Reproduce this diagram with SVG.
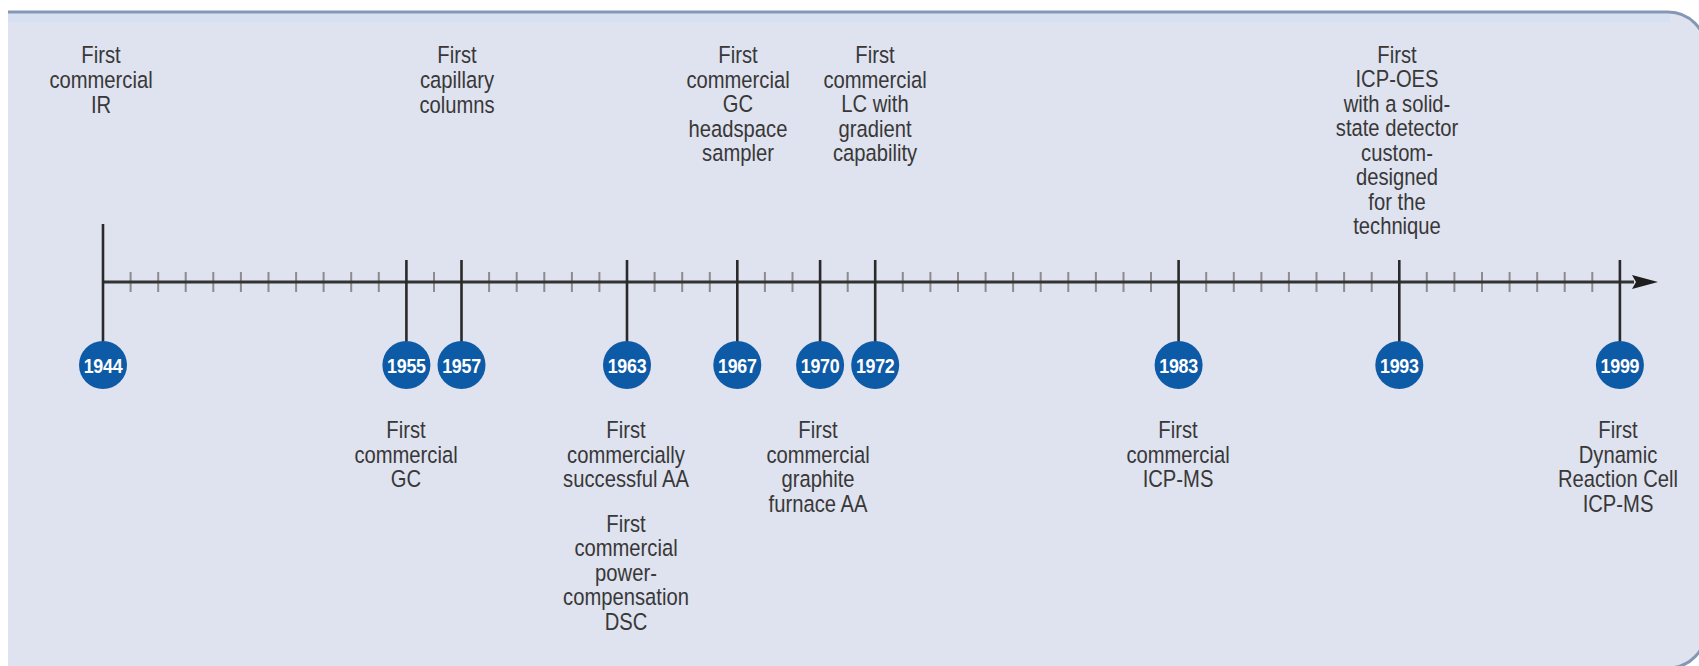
<svg xmlns="http://www.w3.org/2000/svg" width="1699" height="666" viewBox="0 0 1699 666">
<defs>
<style>
.lbl{font-family:"Liberation Sans",Arial,sans-serif;font-size:23.5px;fill:#383838;text-anchor:middle}
.yr{font-family:"Liberation Sans",Arial,sans-serif;font-size:21px;font-weight:bold;fill:#ffffff;text-anchor:middle;letter-spacing:-0.3px}
.dot{fill:#0d5aa7}
.stem{stroke:#2a2a2a;stroke-width:2.6;fill:none}
.tick{stroke:#8c8c8c;stroke-width:2;fill:none}
.axis{stroke:#333333;stroke-width:3;fill:none}
</style>
<marker id="arrow" markerUnits="userSpaceOnUse" markerWidth="28" markerHeight="16" refX="2" refY="7" orient="auto">
<path d="M0,0 L26,7 L0,14 L4,7 Z" fill="#1e1e1e"/>
</marker>
</defs>
<rect x="0" y="0" width="1699" height="666" fill="#ffffff"/>
<path d="M8,666 V12 H1668 A38,38 0 0 1 1706,50 V630 A38,38 0 0 1 1668,668 H8 Z" fill="#dfe2ef"/>
<rect x="8" y="14" width="1662" height="8" fill="#d6e0f1"/>
<path d="M8,12 H1668 A38,38 0 0 1 1706,50 V630 A38,38 0 0 1 1668,668" fill="none" stroke="#8497b4" stroke-width="3"/>

<g id="connectors">
<path class="tick" d="M130.6,272v20M158.2,272v20M185.7,272v20M213.3,272v20M240.9,272v20M268.5,272v20M296.1,272v20M323.6,272v20M351.2,272v20M378.8,272v20M434,272v20M489.1,272v20M516.7,272v20M544.3,272v20M571.9,272v20M599.4,272v20M654.6,272v20M682.2,272v20M709.8,272v20M764.9,272v20M792.5,272v20M847.7,272v20M902.8,272v20M930.4,272v20M958,272v20M985.6,272v20M1013.1,272v20M1040.7,272v20M1068.3,272v20M1095.9,272v20M1123.5,272v20M1151,272v20M1206.2,272v20M1233.8,272v20M1261.4,272v20M1288.9,272v20M1316.5,272v20M1344.1,272v20M1371.7,272v20M1426.8,272v20M1454.4,272v20M1482,272v20M1509.6,272v20M1537.2,272v20M1564.7,272v20M1592.3,272v20"/>
<line class="axis" x1="103" y1="282" x2="1634" y2="282" marker-end="url(#arrow)"/>
<path class="stem" d="M103,224V342M406.4,260V342M461.5,260V342M627,260V342M737.3,260V342M820.1,260V342M875.2,260V342M1178.6,260V342M1399.3,260V342M1619.9,260V342"/>
</g>

<g id="e1944">
<g transform="translate(101,0) scale(0.86,1)">
<text class="lbl" x="0" y="63">First</text>
<text class="lbl" x="0" y="88">commercial</text>
<text class="lbl" x="0" y="113">IR</text>
</g>
<circle class="dot" cx="103" cy="365" r="24"/>
<text class="yr" transform="translate(103,373) scale(0.85,1)">1944</text>
</g>
<g id="e1955">
<circle class="dot" cx="406.4" cy="365" r="24"/>
<text class="yr" transform="translate(406.4,373) scale(0.85,1)">1955</text>
<g transform="translate(406,0) scale(0.86,1)">
<text class="lbl" x="0" y="438.5">First</text>
<text class="lbl" x="0" y="463">commercial</text>
<text class="lbl" x="0" y="487.5">GC</text>
</g>
</g>
<g id="e1957">
<g transform="translate(457,0) scale(0.86,1)">
<text class="lbl" x="0" y="63">First</text>
<text class="lbl" x="0" y="88">capillary</text>
<text class="lbl" x="0" y="113">columns</text>
</g>
<circle class="dot" cx="461.5" cy="365" r="24"/>
<text class="yr" transform="translate(461.5,373) scale(0.85,1)">1957</text>
</g>
<g id="e1963">
<circle class="dot" cx="627" cy="365" r="24"/>
<text class="yr" transform="translate(627,373) scale(0.85,1)">1963</text>
<g transform="translate(626,0) scale(0.86,1)">
<text class="lbl" x="0" y="438.5">First</text>
<text class="lbl" x="0" y="463">commercially</text>
<text class="lbl" x="0" y="487.5">successful AA</text>
<text class="lbl" x="0" y="532">First</text>
<text class="lbl" x="0" y="556.5">commercial</text>
<text class="lbl" x="0" y="581">power-</text>
<text class="lbl" x="0" y="605.5">compensation</text>
<text class="lbl" x="0" y="630">DSC</text>
</g>
</g>
<g id="e1967">
<g transform="translate(738,0) scale(0.86,1)">
<text class="lbl" x="0" y="63">First</text>
<text class="lbl" x="0" y="88">commercial</text>
<text class="lbl" x="0" y="112.5">GC</text>
<text class="lbl" x="0" y="137">headspace</text>
<text class="lbl" x="0" y="161.5">sampler</text>
</g>
<circle class="dot" cx="737.3" cy="365" r="24"/>
<text class="yr" transform="translate(737.3,373) scale(0.85,1)">1967</text>
</g>
<g id="e1970">
<circle class="dot" cx="820.1" cy="365" r="24"/>
<text class="yr" transform="translate(820.1,373) scale(0.85,1)">1970</text>
<g transform="translate(818,0) scale(0.86,1)">
<text class="lbl" x="0" y="438.5">First</text>
<text class="lbl" x="0" y="463">commercial</text>
<text class="lbl" x="0" y="487.5">graphite</text>
<text class="lbl" x="0" y="512">furnace AA</text>
</g>
</g>
<g id="e1972">
<g transform="translate(875,0) scale(0.86,1)">
<text class="lbl" x="0" y="63">First</text>
<text class="lbl" x="0" y="88">commercial</text>
<text class="lbl" x="0" y="112.5">LC with</text>
<text class="lbl" x="0" y="137">gradient</text>
<text class="lbl" x="0" y="161.5">capability</text>
</g>
<circle class="dot" cx="875.2" cy="365" r="24"/>
<text class="yr" transform="translate(875.2,373) scale(0.85,1)">1972</text>
</g>
<g id="e1983">
<circle class="dot" cx="1178.6" cy="365" r="24"/>
<text class="yr" transform="translate(1178.6,373) scale(0.85,1)">1983</text>
<g transform="translate(1178,0) scale(0.86,1)">
<text class="lbl" x="0" y="438.5">First</text>
<text class="lbl" x="0" y="463">commercial</text>
<text class="lbl" x="0" y="487.5">ICP-MS</text>
</g>
</g>
<g id="e1993">
<g transform="translate(1397,0) scale(0.86,1)">
<text class="lbl" x="0" y="63">First</text>
<text class="lbl" x="0" y="87.5">ICP-OES</text>
<text class="lbl" x="0" y="112">with a solid-</text>
<text class="lbl" x="0" y="136.5">state detector</text>
<text class="lbl" x="0" y="161">custom-</text>
<text class="lbl" x="0" y="185.5">designed</text>
<text class="lbl" x="0" y="210">for the</text>
<text class="lbl" x="0" y="234.5">technique</text>
</g>
<circle class="dot" cx="1399.3" cy="365" r="24"/>
<text class="yr" transform="translate(1399.3,373) scale(0.85,1)">1993</text>
</g>
<g id="e1999">
<circle class="dot" cx="1619.9" cy="365" r="24"/>
<text class="yr" transform="translate(1619.9,373) scale(0.85,1)">1999</text>
<g transform="translate(1618,0) scale(0.86,1)">
<text class="lbl" x="0" y="438.5">First</text>
<text class="lbl" x="0" y="463">Dynamic</text>
<text class="lbl" x="0" y="487.5">Reaction Cell</text>
<text class="lbl" x="0" y="512">ICP-MS</text>
</g>
</g>
</svg>
